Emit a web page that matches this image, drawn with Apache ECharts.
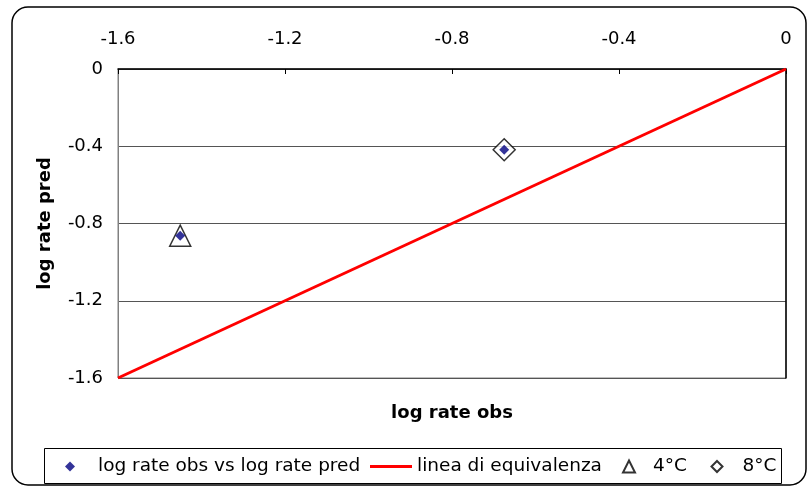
<!DOCTYPE html>
<html>
<head>
<meta charset="utf-8">
<script src="https://cdn.jsdelivr.net/npm/echarts@6/dist/echarts.min.js"></script>
<style>
  html, body { margin: 0; padding: 0; background: #fff; }
  #chart { width: 808px; height: 487px; }
</style>
</head>
<body>
<div id="chart"></div>
<script>
// Observed vs predicted log rates
const obsX = [-1.451, -0.675];
const predY = [-0.863, -0.418];
// Points by storage temperature
const pt4C = [[-1.451, -0.863]];
const pt8C = [[-0.675, -0.418]];
// Line of equivalence y = x
const equivLine = [[-1.6, -1.6], [0, 0]];
const axisTicks = [-1.6, -1.2, -0.8, -0.4, 0];

const seriesNames = ['log rate obs vs log rate pred', 'linea di equivalenza', '4°C', '8°C'];
const FONT = '"DejaVu Sans", "Liberation Sans", Arial, sans-serif';

const chart = echarts.init(document.getElementById('chart'), null, { renderer: 'canvas' });

const fmt = v => {
  const r = Math.round(v * 10) / 10;
  return r === 0 ? '0' : String(r);
};

// one legend block per entry so each icon keeps its own size
function legendEntry(name, left, w, h, gapPad, icon) {
  return {
    data: [icon ? { name: name, icon: icon } : name],
    left: left, top: 452,
    itemWidth: w, itemHeight: h,
    selectedMode: false,
    textStyle: { color: '#000', fontSize: 18.5, fontFamily: FONT, padding: [0, 0, 0, gapPad] }
  };
}

chart.setOption({
  animation: false,
  backgroundColor: '#fff',
  grid: {
    left: 118, top: 69, right: 22, bottom: 109,
    show: true, borderColor: '#808080', borderWidth: 1, backgroundColor: '#fff'
  },
  xAxis: {
    type: 'value', position: 'top',
    min: axisTicks[0], max: axisTicks[axisTicks.length - 1], interval: 0.4,
    axisLine: { show: true, onZero: false, lineStyle: { color: '#000', width: 1.5 } },
    axisTick: { show: true, inside: true, length: 5, lineStyle: { color: '#000' } },
    axisLabel: { margin: 21, color: '#000', fontSize: 18, fontFamily: FONT, formatter: fmt },
    splitLine: { show: false }
  },
  yAxis: [{
    type: 'value',
    min: axisTicks[0], max: axisTicks[axisTicks.length - 1], interval: 0.4,
    name: 'log rate pred', nameLocation: 'middle', nameRotate: 90, nameGap: 64,
    nameTextStyle: { color: '#000', fontSize: 18, fontWeight: 'bold', fontFamily: FONT },
    axisLine: { show: true, onZero: false, lineStyle: { color: '#808080', width: 1 } },
    axisTick: { show: false },
    axisLabel: { margin: 15, color: '#000', fontSize: 18, fontFamily: FONT, formatter: fmt },
    splitLine: { show: true, lineStyle: { color: '#555', width: 1 } }
  }, {
    type: 'value', position: 'right',
    min: axisTicks[0], max: axisTicks[axisTicks.length - 1], interval: 0.4,
    axisLine: { show: true, onZero: false, lineStyle: { color: '#000', width: 1.5 } },
    axisTick: { show: false }, axisLabel: { show: false }, splitLine: { show: false }
  }],
  legend: [
    legendEntry(seriesNames[0], 60, 10, 10, 18),
    legendEntry(seriesNames[1], 365, 42, 3, 0, 'rect'),
    legendEntry(seriesNames[2], 617, 12, 12, 13),
    legendEntry(seriesNames[3], 705.5, 11, 11, 15)
  ],
  series: [
    {
      name: seriesNames[2], type: 'scatter', data: pt4C,
      symbol: 'triangle', symbolSize: 21,
      itemStyle: { color: '#fff', borderColor: '#000', borderWidth: 1.5 }, z: 3
    },
    {
      name: seriesNames[3], type: 'scatter', data: pt8C,
      symbol: 'diamond', symbolSize: 22,
      itemStyle: { color: '#fff', borderColor: '#000', borderWidth: 1.5 }, z: 3
    },
    {
      name: seriesNames[1], type: 'line', data: equivLine,
      symbol: 'none', lineStyle: { color: '#ff0000', width: 3 }, itemStyle: { color: '#ff0000' }, z: 2
    },
    {
      name: seriesNames[0], type: 'scatter',
      data: obsX.map((x, i) => [x, predY[i]]),
      symbol: 'diamond', symbolSize: 10,
      itemStyle: { color: '#000080' }, z: 4
    }
  ],
  graphic: [
    {
      type: 'rect', silent: true, z: -1,
      shape: { x: 12, y: 7, width: 794, height: 478, r: 16 },
      style: { fill: 'none', stroke: '#000', lineWidth: 1.5 }
    },
    {
      type: 'rect', silent: true,
      shape: { x: 44.5, y: 448.5, width: 737, height: 35 },
      style: { fill: 'none', stroke: '#000', lineWidth: 1 }
    },
    {
      type: 'text', silent: true,
      x: 452, y: 413,
      style: {
        text: 'log rate obs', fill: '#000', font: 'bold 18px ' + FONT,
        textAlign: 'center', textVerticalAlign: 'middle'
      }
    }
  ]
});
</script>
</body>
</html>
